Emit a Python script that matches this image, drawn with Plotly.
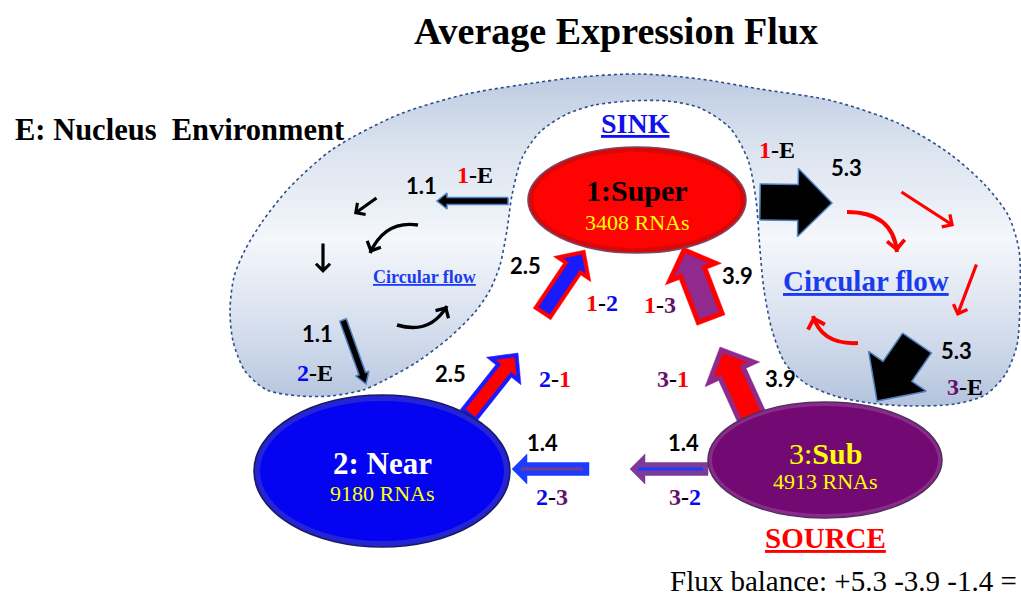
import numpy as np
import plotly.graph_objects as go

W, H = 1021, 596

# ---------------- data ----------------
title_text = "Average Expression Flux"
env_label = "E: Nucleus\u00a0 Environment"
sink_label = "SINK"
source_label = "SOURCE"
circular_label = "Circular flow"
node_labels = ["1:Super", "2: Near", "3:Sub"]
rna_counts = [3408, 9180, 4913]
flux_labels = ["1-E", "2-E", "1-2", "2-1", "1-3", "3-1", "2-3", "3-2", "1-E", "3-E"]
flux_values = [1.1, 1.1, 2.5, 2.5, 3.9, 3.9, 1.4, 1.4, 5.3, 5.3]
balance_terms = [5.3, -3.9, -1.4]

# ---------------- styles / layout geometry ----------------
SERIF = "Liberation Serif, Times New Roman, serif"
SANS = "Lato, Carlito, Open Sans, sans-serif"
RED = "#ff0000"
PURPLE_TXT = "#65106a"
digit_color = {"1": RED, "2": "#0a0aee", "3": PURPLE_TXT, "E": "#000000"}
EDGE = "#4f81bd"

node_geom = [
    dict(c=(637, 200), r=(109, 53), fill="#d80808", inner="#ff0303", rim="#7a4562", k=5,
         name_color="#000000", name_size=30, name_dy=-10, cnt_dy=22, bold="all"),
    dict(c=(382, 471), r=(128, 76), fill="#2424d6", inner="#0404f2", rim="#1a1a60", k=6,
         name_color="#ffffff", name_size=31, name_dy=-8, cnt_dy=22, bold="all"),
    dict(c=(825, 460), r=(117, 58), fill="#8a2a8a", inner="#730a73", rim="#50305e", k=4,
         name_color="#ffff00", name_size=30, name_dy=-7, cnt_dy=21, bold="after"),
]

arrow_geom = [
    dict(tail=(508, 201), tip=(437, 201), w=7, hw=16, hl=10, fill="#000000", edge=EDGE,
         val=(421, 185), lab=(475, 175)),
    dict(tail=(343, 320), tip=(366, 384), w=7, hw=14, hl=11, fill="#000000", edge=EDGE,
         val=(317, 333), lab=(315, 373)),
    dict(tail=(542, 314), tip=(585, 250), w=21, hw=45, hl=23, fill=RED, inner="#1a1aff", b=4,
         val=(525, 265), lab=(602, 303)),
    dict(tail=(468, 416), tip=(518, 353), w=20, hw=44, hl=23, fill="#1a1aff", inner=RED, b=4,
         val=(450, 373), lab=(555, 379)),
    dict(tail=(711, 320), tip=(683, 247), w=30, hw=60, hl=29, fill=RED, inner="#912a8e", b=5,
         val=(737, 275), lab=(660, 305)),
    dict(tail=(754, 422), tip=(720, 347), w=30, hw=60, hl=30, fill="#8e2a8c", inner=RED, b=5,
         val=(780, 378), lab=(673, 379)),
    dict(tail=(589, 469), tip=(512, 469), w=13, hw=30, hl=15, fill="#1a3cff",
         core=((583, 469), (521, 469)), core_color="#7a3a8a", val=(542, 442), lab=(552, 497)),
    dict(tail=(708, 469), tip=(630, 469), w=13, hw=30, hl=15, fill="#7d3a96",
         core=((703, 469), (638, 469)), core_color="#1a3cff", val=(683, 442), lab=(685, 497)),
    dict(tail=(760, 202), tip=(832, 203), w=36, hw=68, hl=34, fill="#000000", edge=EDGE,
         val=(846, 167), lab=(777, 150)),
    dict(tail=(917, 343), tip=(877, 401), w=35, hw=70, hl=36, fill="#000000", edge=EDGE,
         val=(956, 350), lab=(965, 387)),
]

# nucleus environment outline (screen pixel coordinates)
env_x = [363, 330, 300, 267, 245, 233, 230, 234, 245, 262, 290, 333, 400, 467, 520, 580, 640,
         700, 760, 833, 900, 950, 985, 1008, 1019, 1020, 1017, 1005, 985, 955, 910, 870, 835,
         805, 785, 772, 764, 760, 756, 748, 730, 700, 667, 630, 595, 567, 540, 522, 512, 507,
         500, 490, 475, 450, 417, 385, 363]
env_y = [390, 396, 396, 390, 371, 341, 310, 277, 250, 222, 187, 149, 114, 94, 85, 77, 74,
         79, 89, 101, 124, 154, 185, 215, 250, 300, 345, 375, 395, 404, 406, 403, 396,
         383, 363, 330, 290, 250, 200, 160, 128, 108, 101, 101, 105, 114, 132, 158, 195, 230,
         265, 290, 312, 337, 362, 380, 390]

left_straight = [((378, 197), (354, 214)), ((323, 242), (323, 273))]
left_curves = [((418, 225), (385, 220), (370, 253)), ((397, 325), (430, 335), (447, 306))]
right_straight = [((900, 191), (954, 226)), ((977, 263), (957, 316))]
right_curves = [((847, 212), (893, 212), (897, 252)), ((858, 343), (822, 345), (813, 316))]

fig = go.Figure()
annotations = []
shapes = []

# environment blob with gradient fill
fig.add_trace(go.Scatter(
    x=env_x, y=env_y, mode="lines", fill="toself",
    line=dict(color="#2c4c8c", width=1.6, dash="dot", shape="spline", smoothing=0.8),
    fillgradient=dict(type="vertical",
                      colorscale=[[0, "#b3c3dd"], [0.22, "#d4dded"], [0.5, "#f4f7fb"],
                                  [0.78, "#dbe3ef"], [1, "#bccae1"]]),
    hoverinfo="skip", showlegend=False))


def arrow_pts(tail, tip, w, hw, hl):
    t = np.array(tail, float)
    p = np.array(tip, float)
    d = p - t
    u = d / np.hypot(*d)
    n = np.array([-u[1], u[0]])
    base = p - u * hl
    pts = [t + n * w / 2, base + n * w / 2, base + n * hw / 2, p,
           base - n * hw / 2, base - n * w / 2, t - n * w / 2, t + n * w / 2]
    return [q[0] for q in pts], [q[1] for q in pts]


def inset(tail, tip, w, hw, hl, b):
    t = np.array(tail, float)
    p = np.array(tip, float)
    d = p - t
    u = d / np.hypot(*d)
    th = np.arctan2(hw / 2, hl)
    ntip = p - u * b / np.sin(th)
    ntail = t + u * b
    nbase = p - u * hl + u * b
    nhl = np.hypot(*(ntip - nbase))
    nhw = 2 * nhl * np.tan(th)
    return tuple(ntail), tuple(ntip), w - 2 * b, nhw, nhl


for g in arrow_geom:
    xs, ys = arrow_pts(g["tail"], g["tip"], g["w"], g["hw"], g["hl"])
    fig.add_trace(go.Scatter(
        x=xs, y=ys, mode="lines", fill="toself", fillcolor=g["fill"],
        line=dict(color=g.get("edge", g["fill"]), width=1.5 if "edge" in g else 0.5),
        hoverinfo="skip", showlegend=False))
    if "inner" in g:
        it, ip, iw, ihw, ihl = inset(g["tail"], g["tip"], g["w"], g["hw"], g["hl"], g["b"])
        xs, ys = arrow_pts(it, ip, iw, ihw, ihl)
        fig.add_trace(go.Scatter(
            x=xs, y=ys, mode="lines", fill="toself", fillcolor=g["inner"],
            line=dict(color=g["inner"], width=0.5), hoverinfo="skip", showlegend=False))
    if "core" in g:
        (a0, a1) = g["core"]
        fig.add_trace(go.Scatter(
            x=[a0[0], a1[0]], y=[a0[1], a1[1]], mode="lines",
            line=dict(color=g["core_color"], width=3), hoverinfo="skip", showlegend=False))


def head(end, frm, color, width, size):
    e = np.array(end, float)
    f = np.array(frm, float)
    u = (e - f) / np.hypot(*(e - f))
    s = e - u * 8
    annotations.append(dict(x=e[0], y=e[1], ax=s[0], ay=s[1], xref="x", yref="y",
                            axref="x", ayref="y", text="", showarrow=True, arrowhead=4,
                            arrowsize=size, arrowwidth=width, arrowcolor=color, standoff=0))


def straight(a, b, color, width, size):
    annotations.append(dict(x=b[0], y=b[1], ax=a[0], ay=a[1], xref="x", yref="y",
                            axref="x", ayref="y", text="", showarrow=True, arrowhead=4,
                            arrowsize=size, arrowwidth=width, arrowcolor=color, standoff=0))


def curve(p0, c, p1, color, width, size):
    shapes.append(dict(type="path", xref="x", yref="y",
                       path=f"M{p0[0]},{p0[1]} Q{c[0]},{c[1]} {p1[0]},{p1[1]}",
                       line=dict(color=color, width=width), layer="above"))
    head(p1, c, color, width, size)


for a, b in left_straight:
    straight(a, b, "#000000", 3.2, 0.85)
for p0, c, p1 in left_curves:
    curve(p0, c, p1, "#000000", 3.4, 0.85)
for a, b in right_straight:
    straight(a, b, "#ff0000", 3.2, 0.9)
for p0, c, p1 in right_curves:
    curve(p0, c, p1, "#ff0000", 4, 0.85)

# nodes
for lab, cnt, g in zip(node_labels, rna_counts, node_geom):
    cx, cy = g["c"]
    rx, ry = g["r"]
    k = g["k"]
    shapes.append(dict(type="circle", xref="x", yref="y", x0=cx - rx, x1=cx + rx,
                       y0=cy - ry, y1=cy + ry, fillcolor=g["fill"],
                       line=dict(color=g["rim"], width=1.6), layer="above"))
    shapes.append(dict(type="circle", xref="x", yref="y", x0=cx - rx + k, x1=cx + rx - k,
                       y0=cy - ry + k, y1=cy + ry - k, fillcolor=g["inner"],
                       line=dict(width=0), layer="above"))
    if g["bold"] == "all":
        txt = f"<b>{lab}</b>"
    else:
        pre, post = lab.split(":")
        txt = f"{pre}:<b>{post}</b>"
    annotations.append(dict(x=cx, y=cy + g["name_dy"], text=txt, showarrow=False,
                            font=dict(family=SERIF, size=g["name_size"], color=g["name_color"])))
    annotations.append(dict(x=cx, y=cy + g["cnt_dy"], text=f"{cnt} RNAs", showarrow=False,
                            font=dict(family=SERIF, size=22, color="#ffff00")))


def pair_html(label):
    a, b = label.split("-")
    return (f"<b><span style='color:{digit_color[a]}'>{a}</span>"
            f"<span style='color:#000000'>-</span>"
            f"<span style='color:{digit_color[b]}'>{b}</span></b>")


for lab, val, g in zip(flux_labels, flux_values, arrow_geom):
    annotations.append(dict(x=g["val"][0], y=g["val"][1], text=f"<b>{val:.1f}</b>",
                            showarrow=False, font=dict(family=SANS, size=22, color="#000000")))
    annotations.append(dict(x=g["lab"][0], y=g["lab"][1], text=pair_html(lab),
                            showarrow=False, font=dict(family=SERIF, size=24)))

# titles / region labels
annotations += [
    dict(x=616, y=31, text=f"<b>{title_text}</b>", showarrow=False,
         font=dict(family=SERIF, size=38, color="#000000")),
    dict(x=13, y=130, xanchor="left", text=f"<b>{env_label}</b>", showarrow=False,
         font=dict(family=SERIF, size=30.5, color="#000000")),
    dict(x=635, y=123, text=f"<b><u>{sink_label}</u></b>", showarrow=False,
         font=dict(family=SERIF, size=28, color="#1010ee")),
    dict(x=825, y=538, text=f"<b><u>{source_label}</u></b>", showarrow=False,
         font=dict(family=SERIF, size=29, color="#ff0000")),
    dict(x=424, y=277, text=f"<b><u>{circular_label}</u></b>", showarrow=False,
         font=dict(family=SERIF, size=18, color="#1a3cee")),
    dict(x=866, y=281, text=f"<b><u>{circular_label}</u></b>", showarrow=False,
         font=dict(family=SERIF, size=29, color="#1a3cee")),
    dict(x=1019, y=581, xanchor="right",
         text="Flux balance: " + " ".join(f"{t:+.1f}" for t in balance_terms) + " =",
         showarrow=False, font=dict(family=SERIF, size=29, color="#000000")),
]

fig.update_layout(
    width=W, height=H, margin=dict(l=0, r=0, t=0, b=0),
    paper_bgcolor="white", plot_bgcolor="white",
    xaxis=dict(range=[0, W], visible=False, fixedrange=True),
    yaxis=dict(range=[H, 0], visible=False, fixedrange=True),
    showlegend=False, shapes=shapes, annotations=annotations,
)

fig.write_html("out.html", config={"displayModeBar": False},
               post_script="document.body.style.margin='0';document.body.style.overflow='hidden';")
